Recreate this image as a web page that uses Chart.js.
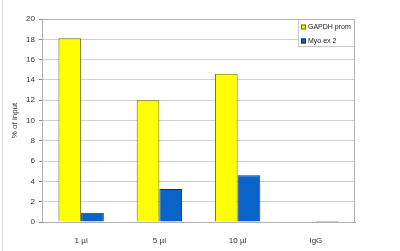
<!DOCTYPE html>
<html>
<head>
<meta charset="utf-8">
<script src="https://cdn.jsdelivr.net/npm/chart.js@4/dist/chart.umd.min.js"></script>
<style>
    html, body { margin: 0; padding: 0; background: #fff; }
    #wrap { width: 400px; height: 251px; position: relative; }
</style>
</head>
<body>
<div id="wrap"><canvas id="chipChart" width="400" height="251"></canvas></div>
<script>
// data
const categories = ["1 µl", "5 µl", "10 µl", "IgG"];
const gapdhProm = [18.1, 12.0, 14.6, 0.02];
const myoEx2 = [0.9, 3.25, 4.6, 0.1];
const yTicks = [0, 2, 4, 6, 8, 10, 12, 14, 16, 18, 20];

const FONT = "'Liberation Sans', Arial, sans-serif";

// legend box inside the plot, top right (Excel style)
const boxLegend = {
    id: "boxLegend",
    afterDraw(chart) {
        const ctx = chart.ctx;
        const area = chart.chartArea;
        const w = 57, h = 28;
        const x = area.right - w, y = area.top;
        ctx.save();
        ctx.fillStyle = "#fff";
        ctx.fillRect(x, y, w, h);
        ctx.strokeStyle = "#c8c8c8";
        ctx.lineWidth = 1;
        ctx.strokeRect(x + 0.5, y + 0.5, w - 1, h - 1);
        ctx.font = "7px " + FONT;
        ctx.textBaseline = "middle";
        chart.data.datasets.forEach((ds, i) => {
            const ly = y + 8 + i * 14;
            ctx.fillStyle = ds.backgroundColor;
            ctx.fillRect(x + 3, ly - 2.5, 5, 5);
            ctx.strokeStyle = ds.borderColor;
            ctx.strokeRect(x + 3.5, ly - 2, 4, 4);
            ctx.fillStyle = "#222";
            ctx.fillText(ds.label, x + 10, ly);
        });
        // plot border
        ctx.strokeStyle = "#b0b0b0";
        ctx.strokeRect(area.left + 0.5, area.top + 0.5, area.right - area.left - 1, area.bottom - area.top);
        ctx.restore();
    }
};

// faint page edge at the left
const pageEdge = {
    id: "pageEdge",
    beforeDraw(chart) {
        const ctx = chart.ctx;
        ctx.save();
        ctx.strokeStyle = "#dedede";
        ctx.beginPath();
        ctx.moveTo(2.5, 0);
        ctx.lineTo(2.5, 251);
        ctx.stroke();
        ctx.restore();
    }
};

new Chart(document.getElementById("chipChart"), {
    type: "bar",
    data: {
        labels: categories,
        datasets: [{
            label: "GAPDH prom",
            data: gapdhProm,
            backgroundColor: "#ffff00",
            borderColor: "#6b6b00",
            borderWidth: 1,
            categoryPercentage: 0.58,
            barPercentage: 1.0
        }, {
            label: "Myo ex 2",
            data: myoEx2,
            backgroundColor: "#0a64c8",
            borderColor: "#1a2f55",
            borderWidth: 1,
            categoryPercentage: 0.58,
            barPercentage: 1.0
        }]
    },
    options: {
        responsive: false,
        animation: false,
        devicePixelRatio: 1,
        layout: { padding: { left: 10, top: 19, right: 45, bottom: 0 } },
        plugins: {
            legend: { display: false },
            tooltip: { enabled: false }
        },
        scales: {
            x: {
                grid: { display: false, drawTicks: true, offset: true },
                border: { color: "#8a8a8a" },
                ticks: { color: "#333", font: { family: FONT, size: 8 }, padding: 6 },
                afterFit(scale) { scale.height = 29; }
            },
            y: {
                min: 0,
                max: 20,
                afterBuildTicks(scale) { scale.ticks = yTicks.map(v => ({ value: v })); },
                grid: { color: "#d0d0d0", tickLength: 3, tickColor: "#8a8a8a" },
                border: { color: "#8a8a8a" },
                ticks: { color: "#333", font: { family: FONT, size: 8 }, padding: 4 },
                title: {
                    display: true,
                    text: "% of input",
                    color: "#333",
                    font: { family: FONT, size: 8 },
                    padding: { top: 0, bottom: 4 }
                },
                afterFit(scale) { scale.width = 32; }
            }
        }
    },
    plugins: [pageEdge, boxLegend]
});
</script>
</body>
</html>
